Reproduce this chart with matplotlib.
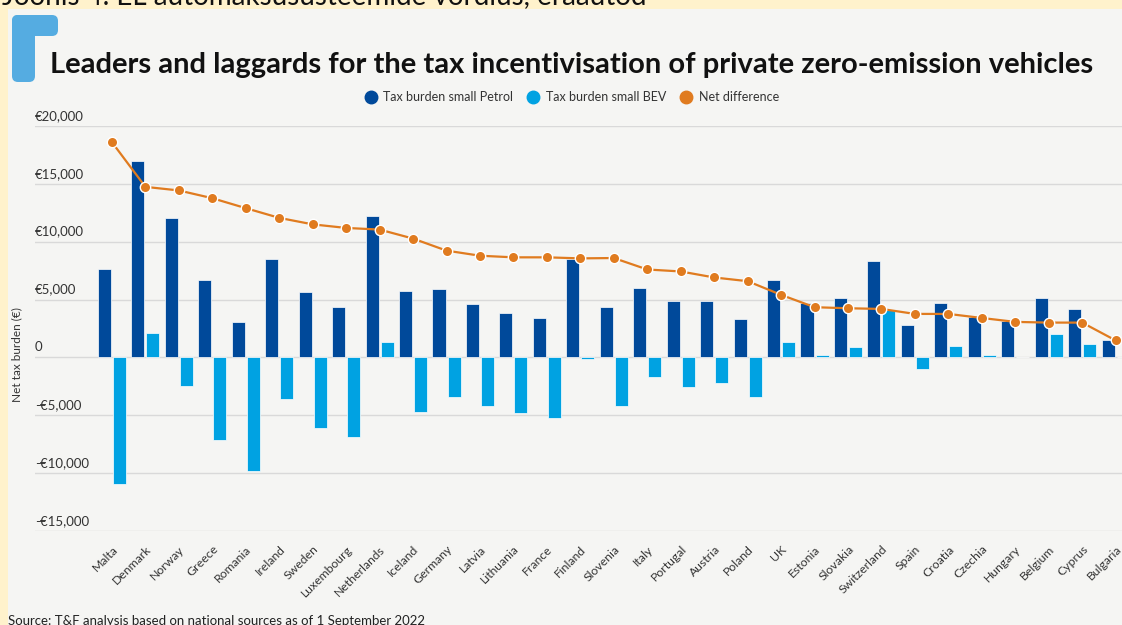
import numpy as np
import matplotlib
matplotlib.use("Agg")
import matplotlib.pyplot as plt
from matplotlib.patches import Rectangle, FancyBboxPatch
from matplotlib.lines import Line2D

countries = ["Malta", "Denmark", "Norway", "Greece", "Romania", "Ireland", "Sweden",
             "Luxembourg", "Netherlands", "Iceland", "Germany", "Latvia", "Lithuania",
             "France", "Finland", "Slovenia", "Italy", "Portugal", "Austria", "Poland",
             "UK", "Estonia", "Slovakia", "Switzerland", "Spain", "Croatia", "Czechia",
             "Hungary", "Belgium", "Cyprus", "Bulgaria"]
petrol = [7670, 16970, 12060, 6650, 3100, 8530, 5640, 4340, 12260, 5700, 5900, 4630, 3850,
          3410, 8470, 4340, 6020, 4890, 4890, 3330, 6650, 4680, 5120, 8360, 2810, 4720,
          3530, 3180, 5120, 4190, 1470]
bev = [-10980, 2100, -2450, -7110, -9830, -3610, -6070, -6880, 1300, -4680, -3410, -4190,
       -4830, -5260, -150, -4190, -1670, -2540, -2200, -3410, 1330, 230, 870, 4100, -980,
       950, 170, 0, 2050, 1190, 0]
net = [18600, 14740, 14430, 13760, 12900, 12060, 11500, 11190, 11050, 10270, 9230, 8790,
       8650, 8650, 8560, 8590, 7600, 7430, 6910, 6590, 5410, 4340, 4250, 4190, 3760, 3760,
       3410, 3070, 3010, 3010, 1470]
yticks = [-15000, -10000, -5000, 0, 5000, 10000, 15000, 20000]
ylabels = ["-€15,000", "-€10,000", "-€5,000", "0", "€5,000", "€10,000", "€15,000", "€20,000"]

c_petrol = "#00499A"
c_bev = "#00A2E2"
c_net = "#E07B1F"

plt.rcParams['font.family'] = ['Lato', 'DejaVu Sans']

W, H = 1122, 625
fig = plt.figure(figsize=(W / 100, H / 100), dpi=100)
fig.patch.set_facecolor("#FFF2CC")

# background layer in pixel coordinates
bg = fig.add_axes([0, 0, 1, 1], zorder=0)
bg.set_xlim(0, W)
bg.set_ylim(H, 0)
bg.axis("off")
bg.add_patch(Rectangle((8, 9), W, H, color="#F5F5F3", lw=0))
bg.add_patch(FancyBboxPatch((14, 17), 42, 17, boxstyle="round,pad=2,rounding_size=6",
                            color="#55ACE1", lw=0))
bg.add_patch(FancyBboxPatch((14, 17), 19, 63, boxstyle="round,pad=2,rounding_size=6",
                            color="#55ACE1", lw=0))

fig.text(2 / W, 1 - 4 / H, "Joonis 4. EL automaksusüsteemide võrdlus, eraautod",
         fontsize=20, va="baseline", ha="left", color="#111111", zorder=5)
fig.text(50 / W, 1 - 73 / H,
         "Leaders and laggards for the tax incentivisation of private zero-emission vehicles",
         fontsize=21, fontweight="bold", va="baseline", ha="left", color="#111111")

ax = fig.add_axes([35 / W, 1 - 531 / H, 1 - 35 / W, (531 - 126) / H], zorder=2)
ax.set_facecolor("none")
x = np.arange(len(countries))
ax.bar(x - 0.225, petrol, 0.39, color=c_petrol, edgecolor="white", linewidth=0.5, zorder=2)
ax.bar(x + 0.225, bev, 0.39, color=c_bev, edgecolor="white", linewidth=0.5, zorder=2)
ax.plot(x, net, color=c_net, lw=1.6, marker="o", ms=7.5, mec="white", mew=1, zorder=3)

ax.set_ylim(-15000, 20000)
ax.set_xlim(-2.3, 30.19)
ax.set_yticks(yticks)
ax.yaxis.grid(True, color="#D9D9D9", lw=1)
ax.set_axisbelow(True)
ax.tick_params(axis="y", length=0, labelleft=False)
for v, lbl in zip(yticks, ylabels):
    ax.annotate(lbl, xy=(0, v), xycoords=ax.get_yaxis_transform(), xytext=(0, 3),
                textcoords="offset points", ha="left", va="bottom", fontsize=9.5,
                color="#333333")
for s in ax.spines.values():
    s.set_visible(False)

ax.set_xticks(x)
ax.set_xticklabels(countries, rotation=45, ha="right", rotation_mode="anchor",
                   fontsize=8.8, color="#333333")
ax.tick_params(axis="x", length=0, pad=9)

fig.text(17 / W, 1 - 355 / H, "Net tax burden (€)", rotation=90, va="center", ha="center",
         fontsize=8.5, color="#333333")

handles = [Line2D([], [], ls="", marker="o", ms=9, color=c_petrol),
           Line2D([], [], ls="", marker="o", ms=9, color=c_bev),
           Line2D([], [], ls="", marker="o", ms=9, color=c_net)]
fig.legend(handles, ["Tax burden small Petrol", "Tax burden small BEV", "Net difference"],
           loc="center", bbox_to_anchor=(571 / W, 1 - 97 / H), ncol=3, frameon=False,
           fontsize=9, handletextpad=0.4, columnspacing=1.0, handlelength=1.2,
           labelcolor="#333333")

fig.text(8 / W, 1 - 615 / H,
         "Source: T&F analysis based on national sources as of 1 September 2022",
         fontsize=9.5, va="top", ha="left", color="#222222")

fig.savefig("out.png", dpi=100, facecolor=fig.get_facecolor())
